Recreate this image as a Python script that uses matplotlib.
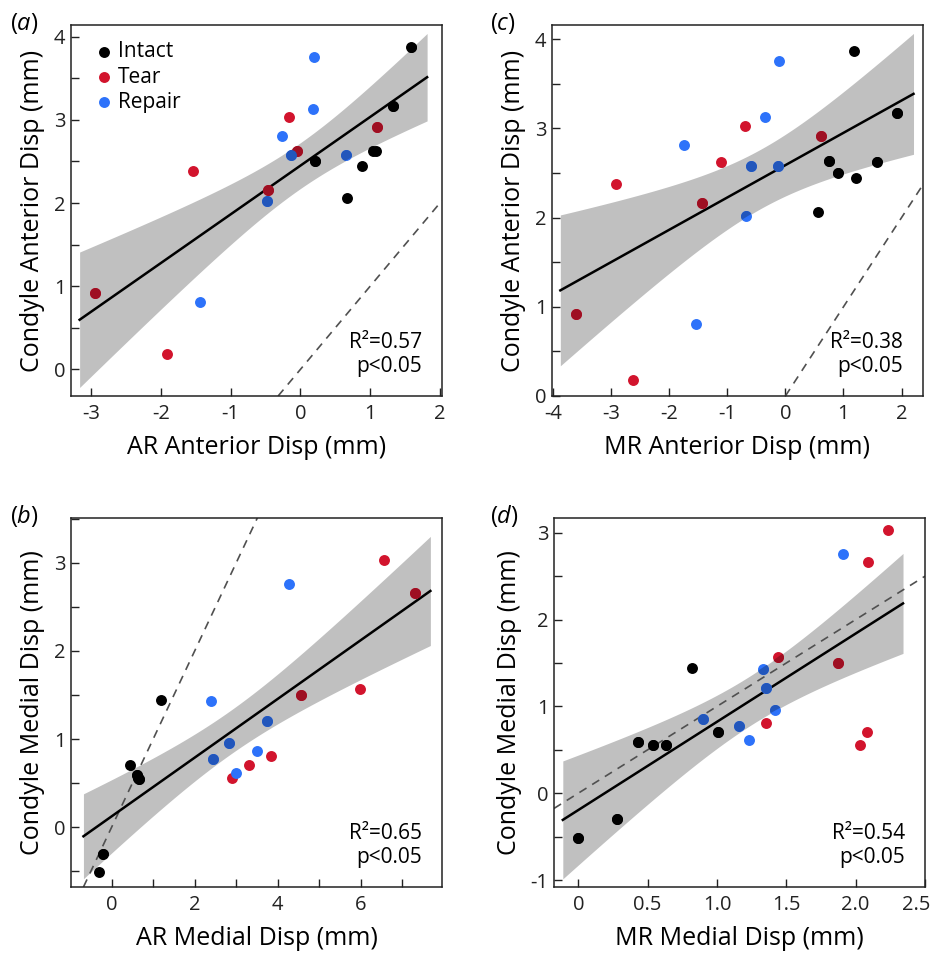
import numpy as np
import matplotlib
matplotlib.use("Agg")
import matplotlib.pyplot as plt
from matplotlib.ticker import MultipleLocator, FixedLocator
from matplotlib.transforms import ScaledTranslation

plt.rcParams['font.family'] = ['Open Sans', 'DejaVu Sans']
plt.rcParams['axes.unicode_minus'] = False
plt.rcParams['mathtext.fontset'] = 'custom'
plt.rcParams['mathtext.rm'] = 'Open Sans'
plt.rcParams['mathtext.it'] = 'Open Sans:italic'

groups = ["Intact", "Tear", "Repair"]
colores = ["#000000", "#d2142d", "#2d72fa"]

# condyle anterior disp (a, c)
ant_y_intact = [3.87, 3.17, 2.63, 2.62, 2.44, 2.50, 2.06]
ant_y_tear = [0.92, 0.18, 2.38, 2.16, 3.03, 2.62, 2.91]
ant_y_repair = [3.76, 3.13, 2.81, 2.58, 2.58, 2.02, 0.81]
ar_ant_intact = [1.59, 1.33, 1.045, 1.09, 0.89, 0.21, 0.67]
ar_ant_tear = [-2.94, -1.92, -1.54, -0.46, -0.16, -0.05, 1.10]
ar_ant_repair = [0.19, 0.18, -0.27, -0.13, 0.65, -0.48, -1.44]
mr_ant_intact = [1.18, 1.93, 0.75, 1.58, 1.22, 0.91, 0.57]
mr_ant_tear = [-3.60, -2.63, -2.91, -1.43, -0.70, -1.11, 0.61]
mr_ant_repair = [-0.11, -0.35, -1.74, -0.60, -0.13, -0.68, -1.54]

# condyle medial disp (b, d)
med_y_intact = [-0.51, -0.30, 0.70, 0.59, 0.56, 0.55, 1.44]
med_y_tear = [3.03, 2.66, 1.57, 1.50, 0.81, 0.70, 0.56]
med_y_repair = [2.76, 1.43, 1.21, 0.96, 0.86, 0.77, 0.61]
ar_med_intact = [-0.30, -0.22, 0.44, 0.62, 0.63, 0.65, 1.18]
ar_med_tear = [6.56, 7.30, 5.99, 4.57, 3.85, 3.30, 2.90]
ar_med_repair = [4.28, 2.40, 3.74, 2.83, 3.51, 2.45, 3.00]
mr_med_intact = [0.0, 0.28, 1.01, 0.43, 0.54, 0.63, 0.82]
mr_med_tear = [2.23, 2.09, 1.44, 1.87, 1.35, 2.08, 2.03]
mr_med_repair = [1.91, 1.33, 1.35, 1.42, 0.90, 1.16, 1.23]

stats_a = "R²=0.57\np<0.05"
stats_b = "R²=0.65\np<0.05"
stats_c = "R²=0.38\np<0.05"
stats_d = "R²=0.54\np<0.05"

W, H = 936, 959
fig = plt.figure(figsize=(W / 100, H / 100), dpi=100)


def ax_px(left, top, right, bottom):
    return fig.add_axes([left / W, 1 - bottom / H, (right - left) / W, (bottom - top) / H])


def darker(c, f=0.75):
    rgb = np.array(matplotlib.colors.to_rgb(c))
    return tuple(rgb * f)


def painel(ax, xs, ys, xlab, ylab, stats, xlim, ylim, xticks, yticks,
           xminor=None, yminor=0.5, xfmt=None, legend=False):
    x = np.concatenate([np.array(v, float) for v in xs])
    y = np.concatenate([np.array(v, float) for v in ys])
    n = len(x)
    b, a = np.polyfit(x, y, 1)
    res = y - (a + b * x)
    s = np.sqrt(np.sum(res ** 2) / (n - 2))
    sxx = np.sum((x - x.mean()) ** 2)
    t = 2.093
    pad = 0.05 * (x.max() - x.min())
    xf = np.linspace(x.min() - pad, x.max() + pad, 200)
    yf = a + b * xf
    half = t * s * np.sqrt(1 / n + (xf - x.mean()) ** 2 / sxx)

    band = ax.fill_between(xf, yf - half, yf + half, color="#c0c0c0", lw=0, zorder=1)
    ax.axline((0, 0), slope=1, color="#505050", lw=1.2, ls=(0, (5, 4)), zorder=2)
    ax.plot(xf, yf, color="black", lw=1.8, zorder=3)

    clip = band.get_paths()[0]
    for g, c, xv, yv in zip(groups, colores, xs, ys):
        ax.scatter(xv, yv, s=62, color=c, lw=0, zorder=4, label=g)
        sc = ax.scatter(xv, yv, s=62, color=darker(c), lw=0, zorder=5)
        sc.set_clip_path(clip, ax.transData)

    ax.set_xlim(xlim)
    ax.set_ylim(ylim)
    ax.xaxis.set_major_locator(FixedLocator(xticks))
    ax.yaxis.set_major_locator(FixedLocator(yticks))
    if xfmt is not None:
        ax.set_xticklabels(xfmt)
    else:
        ax.set_xticklabels([f"{v:g}" for v in xticks])
    ax.set_yticklabels([f"{v:g}" for v in yticks])
    if xminor:
        ax.xaxis.set_minor_locator(MultipleLocator(xminor))
    if yminor:
        ax.yaxis.set_minor_locator(MultipleLocator(yminor))
    ax.tick_params(which="both", direction="in", length=6, width=1, labelsize=14.5,
                   color="#222222", labelcolor="#222222")
    ax.tick_params(axis="x", pad=6)
    ax.tick_params(axis="y", pad=4)
    for sp in ax.spines.values():
        sp.set_linewidth(1.1)
        sp.set_color("#222222")
    ax.set_xlabel(xlab, fontsize=18, labelpad=8)
    ax.set_ylabel(ylab, fontsize=18, labelpad=6)
    ax.text(0.946, 0.052, stats, transform=ax.transAxes, ha="right", va="bottom",
            multialignment="right", fontsize=15, linespacing=1.15, zorder=6)
    if legend:
        ax.legend(loc="upper left", bbox_to_anchor=(0.015, 0.995), frameon=False,
                  fontsize=15, handletextpad=0.1, labelspacing=0.2,
                  handlelength=1.2, borderaxespad=0.3)


ax_a = ax_px(71, 25, 442, 396)
ax_c = ax_px(552, 25, 923, 396)
ax_b = ax_px(71, 518, 442, 887)
ax_d = ax_px(554, 518, 925, 887)

painel(ax_a, [ar_ant_intact, ar_ant_tear, ar_ant_repair], [ant_y_intact, ant_y_tear, ant_y_repair],
       "AR Anterior Disp (mm)", "Condyle Anterior Disp (mm)", stats_a,
       (-3.29, 2.03), (-0.32, 4.14), [-3, -2, -1, 0, 1, 2], [0, 1, 2, 3, 4], legend=True)
painel(ax_c, [mr_ant_intact, mr_ant_tear, mr_ant_repair], [ant_y_intact, ant_y_tear, ant_y_repair],
       "MR Anterior Disp (mm)", "Condyle Anterior Disp (mm)", stats_c,
       (-4.02, 2.37), (0, 4.16), [-4, -3, -2, -1, 0, 1, 2], [0, 1, 2, 3, 4])
painel(ax_b, [ar_med_intact, ar_med_tear, ar_med_repair], [med_y_intact, med_y_tear, med_y_repair],
       "AR Medial Disp (mm)", "Condyle Medial Disp (mm)", stats_b,
       (-0.98, 7.96), (-0.68, 3.51), [0, 2, 4, 6, 8], [0, 1, 2, 3], xminor=1)
painel(ax_d, [mr_med_intact, mr_med_tear, mr_med_repair], [med_y_intact, med_y_tear, med_y_repair],
       "MR Medial Disp (mm)", "Condyle Medial Disp (mm)", stats_d,
       (-0.175, 2.50), (-1.08, 3.17), [0, 0.5, 1.0, 1.5, 2.0, 2.5], [-1, 0, 1, 2, 3],
       xfmt=["0", "0.5", "1.0", "1.5", "2.0", "2.5"])

# last tick label of (d) sits at the figure edge: nudge it left
ultimo = ax_d.get_xticklabels()[-1]
ultimo.set_transform(ultimo.get_transform() + ScaledTranslation(-9 / 100, 0, fig.dpi_scale_trans))

for lbl, x, y in [("a", 10, 23), ("c", 490, 23), ("b", 10, 516), ("d", 490, 516)]:
    fig.text(x / W, 1 - y / H, "($\\mathit{" + lbl + "}$)", fontsize=17, va="center", ha="left")

fig.savefig("out.png", dpi=100)
